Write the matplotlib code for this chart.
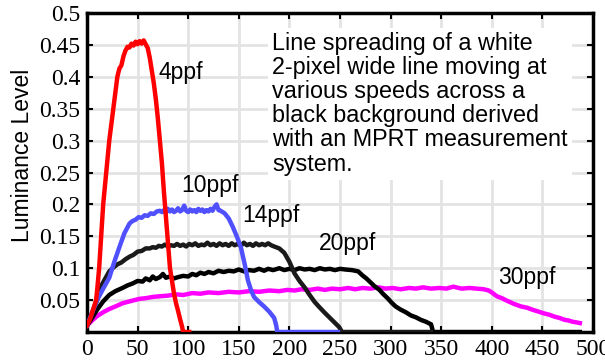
import matplotlib
matplotlib.use("Agg")
import matplotlib.pyplot as plt
from matplotlib.font_manager import FontProperties

plt.rcParams["font.family"] = ["Liberation Serif", "DejaVu Serif"]

# ---- data ----
x4 = [0, 3, 6, 9, 10, 12, 14, 16, 19, 22, 26, 30, 32, 34, 36, 38, 40, 42, 44, 46, 48, 50, 52, 54, 56, 58, 60, 62,
      64, 66, 68, 70, 72, 74, 76, 78, 80, 82, 84, 86, 88, 90, 92, 94, 95, 101]
y4 = [0.01, 0.02, 0.035, 0.05, 0.065, 0.1, 0.15, 0.2, 0.25, 0.3, 0.35, 0.4, 0.413, 0.418, 0.432, 0.441, 0.447, 0.446,
      0.452, 0.449, 0.455, 0.451, 0.456, 0.452, 0.457, 0.451, 0.445, 0.43, 0.41, 0.39, 0.365, 0.335, 0.30, 0.265,
      0.22, 0.18, 0.14, 0.10, 0.08, 0.06, 0.045, 0.033, 0.02, 0.008, 0.0, 0.0]

x10 = [0, 5, 10, 16, 22, 27, 32, 37, 42, 45, 48, 51, 54, 57, 60, 63, 66, 69,
       72, 74, 76, 78, 80, 82, 84, 86, 88, 90, 92, 94, 96, 98, 100, 102, 104, 106, 108, 110, 112, 114, 116, 118,
       120, 122, 124, 126, 128, 130, 132,
       136, 140, 144, 148, 152, 156, 159, 162, 165, 170, 175, 180, 185, 187, 188, 248]
y10 = [0.01, 0.03, 0.05, 0.068, 0.085, 0.11, 0.133, 0.155, 0.17, 0.174, 0.176, 0.18, 0.179, 0.183, 0.182, 0.186,
       0.185, 0.189,
       0.190, 0.188, 0.191, 0.187, 0.193, 0.189, 0.192, 0.188, 0.190, 0.194, 0.189, 0.191, 0.198, 0.190, 0.188,
       0.192, 0.189, 0.191, 0.188, 0.193, 0.190, 0.192, 0.188, 0.191, 0.189, 0.193, 0.190, 0.196, 0.200, 0.191,
       0.190,
       0.186, 0.178, 0.165, 0.15, 0.133, 0.105, 0.081, 0.066, 0.055, 0.047, 0.04, 0.032, 0.022, 0.01, 0.0, 0.0]

x14 = [0, 5, 10, 15, 22, 26, 30, 34, 38, 42, 46, 50, 54, 58,
       62, 65, 68, 71, 74, 77, 80, 83, 86, 89, 92, 95, 98, 101, 104, 107, 110, 113, 116, 119, 122, 125, 128, 131,
       134, 137, 140, 143, 146, 149, 152, 155, 158, 161, 164, 167, 170, 173, 176, 179, 182, 185,
       190, 195, 200, 205, 210, 215, 220, 225, 229, 235, 242, 249, 252, 340]
y14 = [0.01, 0.03, 0.05, 0.075, 0.095, 0.101, 0.106, 0.109, 0.114, 0.118, 0.121, 0.126, 0.127, 0.131,
       0.131, 0.133, 0.132, 0.135, 0.134, 0.137, 0.134, 0.136, 0.135, 0.138, 0.135, 0.137, 0.134, 0.138, 0.136,
       0.139, 0.135, 0.137, 0.136, 0.140, 0.136, 0.138, 0.135, 0.139, 0.136, 0.138, 0.135, 0.139, 0.136, 0.138,
       0.135, 0.140, 0.136, 0.138, 0.135, 0.139, 0.136, 0.138, 0.136, 0.139, 0.136, 0.134,
       0.131, 0.124, 0.11, 0.092, 0.08, 0.07, 0.058, 0.047, 0.04, 0.03, 0.019, 0.008, 0.0, 0.0]

x20 = [0, 5, 10, 16, 22, 28, 35, 40, 45, 50, 55, 58, 62, 65, 68, 72, 75, 78, 82, 86, 90, 95, 100, 104, 108, 112,
       116, 120, 125, 130, 135, 140, 145, 150, 155, 160, 165, 170, 175, 179, 184, 190, 195, 200, 205, 210, 215,
       220, 225, 230, 235, 240, 245, 250, 255, 262, 268, 272, 276, 280, 284, 289, 293, 297, 301, 305, 310, 315,
       320, 325, 330, 335, 340, 342, 487]
y20 = [0.01, 0.022, 0.035, 0.048, 0.058, 0.064, 0.069, 0.073, 0.076, 0.08, 0.079, 0.084, 0.081, 0.087, 0.083,
       0.086, 0.091, 0.085, 0.087, 0.084, 0.086, 0.088, 0.087, 0.091, 0.089, 0.093, 0.091, 0.094, 0.092, 0.096,
       0.094, 0.096, 0.095, 0.098, 0.095, 0.097, 0.096, 0.099, 0.096, 0.099, 0.097, 0.100, 0.097, 0.099, 0.097,
       0.100, 0.098, 0.099, 0.097, 0.100, 0.098, 0.099, 0.097, 0.099, 0.098, 0.097, 0.095, 0.089, 0.084, 0.078,
       0.072, 0.066, 0.059, 0.053, 0.046, 0.04, 0.035, 0.031, 0.026, 0.023, 0.019, 0.016, 0.012, 0.0, 0.0]

x30 = [0, 5, 10, 16, 22, 28, 35, 42, 52, 58, 65, 72, 80, 88, 95, 104, 112, 120, 130, 140, 150, 160, 170, 180,
       190, 198, 205, 212, 220, 228, 235, 242, 250, 258, 265, 272, 280, 288, 295, 302, 310, 318, 325, 332, 340,
       348, 355, 362, 370, 378, 385, 392, 397, 400, 405, 410, 415, 422, 429, 435, 440, 446, 452, 457, 462, 467,
       472, 476, 480, 484, 487]
y30 = [0.01, 0.018, 0.025, 0.031, 0.036, 0.04, 0.045, 0.048, 0.052, 0.053, 0.055, 0.056, 0.057, 0.059, 0.058,
       0.061, 0.06, 0.062, 0.061, 0.063, 0.062, 0.064, 0.063, 0.065, 0.064, 0.066, 0.065, 0.067, 0.066, 0.068,
       0.066, 0.068, 0.067, 0.069, 0.067, 0.069, 0.068, 0.070, 0.068, 0.069, 0.067, 0.069, 0.068, 0.070, 0.068,
       0.069, 0.068, 0.071, 0.068, 0.069, 0.068, 0.067, 0.065, 0.062, 0.056, 0.053, 0.049, 0.044, 0.04, 0.038,
       0.035, 0.032, 0.029, 0.027, 0.024, 0.022, 0.019, 0.018, 0.016, 0.015, 0.014]

labels = ["4ppf", "10ppf", "14ppf", "20ppf", "30ppf"]
label_x = [71, 93, 153, 229, 406]
label_y = [0.407, 0.23, 0.183, 0.139, 0.085]

note = ("Line spreading of a white\n2-pixel wide line moving at\nvarious speeds across a\n"
        "black background derived\nwith an MPRT measurement\nsystem.")

xticks = [0, 50, 100, 150, 200, 250, 300, 350, 400, 450, 500]
yticks = [0.05, 0.1, 0.15, 0.2, 0.25, 0.3, 0.35, 0.4, 0.45, 0.5]
ytick_labels = ["0.05", "0.1", "0.15", "0.2", "0.25", "0.3", "0.35", "0.4", "0.45", "0.5"]

# ---- figure ----
fig = plt.figure(figsize=(6.05, 3.6), dpi=100)
ax = fig.add_axes([87 / 605, (360 - 332) / 360, (593 - 87) / 605, (332 - 13) / 360])

ax.grid(True, color="#e3e3e3", linewidth=2)
ax.set_axisbelow(True)

lw = 3.2
ax.plot(x30, y30, color="#ff00ff", lw=lw, zorder=3)
ax.plot(x20, y20, color="black", lw=lw, zorder=4)
ax.plot(x14, y14, color="#1a1a1a", lw=lw, zorder=4)
ax.plot(x10, y10, color="#5050ff", lw=lw, zorder=5)
ax.plot(x4, y4, color="#ff0000", lw=lw, zorder=6)

sans = "Liberation Sans"
for t, tx, ty in zip(labels, label_x, label_y):
    ax.text(tx, ty, t, fontsize=16.5, family=sans, ha="left", va="center", zorder=7)

ax.text(183, 0.470, note, fontsize=16.8, family=sans, ha="left", va="top", linespacing=1.06,
        bbox=dict(facecolor="white", edgecolor="none", pad=3), zorder=2.5)

ax.set_xlim(0, 500)
ax.set_ylim(0, 0.5)
ax.set_xticks(xticks)
ax.set_xticklabels([str(v) for v in xticks])
ax.set_yticks(yticks)
ax.set_yticklabels(ytick_labels)

ax.tick_params(direction="in", length=4, width=1.5, top=True, right=True, pad=5, labelsize=17)
serif_fp = FontProperties(family="Liberation Serif", size=17)
for lab in ax.get_xticklabels() + ax.get_yticklabels():
    lab.set_fontproperties(serif_fp)

for s in ax.spines.values():
    s.set_linewidth(2.5)
    s.set_color("black")

ax.set_ylabel("Luminance Level", fontsize=16.5, family=sans, va="center", ha="center")
ax.yaxis.set_label_coords(-0.128, 0.555)

fig.savefig("out.png", dpi=100)
